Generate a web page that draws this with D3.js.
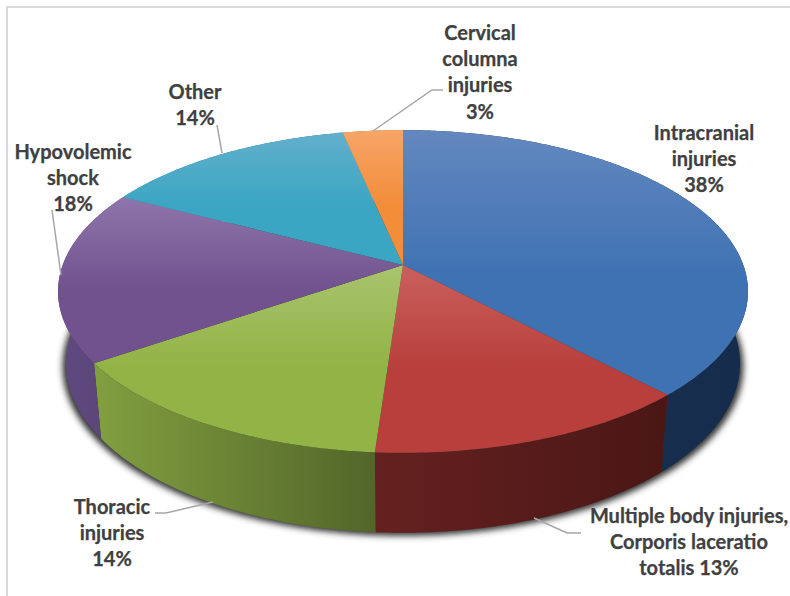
<!DOCTYPE html>
<html>
<head>
<meta charset="utf-8">
<script src="https://cdn.jsdelivr.net/npm/d3@7/dist/d3.min.js"></script>
<style>
html,body{margin:0;padding:0;background:#fff;}
svg{display:block;}
text{font-family:Lato,"Open Sans",sans-serif;font-weight:700;fill:#404040;stroke:#404040;stroke-width:0.25;}
</style>
</head>
<body>
<svg id="chart" width="790" height="596"></svg>
<script>
// Data
const categories = ["Intracranial injuries","Multiple body injuries, Corporis laceratio totalis","Thoracic injuries","Hypovolemic shock","Other","Cervical columna injuries"];
const values = [38,13.1,14.3,17.3,14,3.3];
const labelLines = [
  ["Intracranial","injuries","38%"],
  ["Multiple body injuries,","Corporis laceratio","totalis 13%"],
  ["Thoracic","injuries","14%"],
  ["Hypovolemic","shock","18%"],
  ["Other","14%"],
  ["Cervical","columna","injuries","3%"]
];
// Styles
const topLight = ["#6388bf","#c9605c","#a9c46e","#8f75aa","#62b0cc","#f7a568"];
const topBase  = ["#3f72b3","#b83f3c","#92b345","#71528f","#3aa6c3","#f28d3a"];
const wallLeft = ["#1a3152","#652120","#829f40","#5f4a80","#2a7a90","#b06a2c"];
const wallRight= ["#162c4c","#4a1715","#526629","#5a4478","#2a7a90","#b06a2c"];
// Layout
const labelPos = [[704,133],[689,516],[112,507],[73,152],[195,92],[480,33]];
const leaders = [null,
  [[534,518],[567,533],[581,533]],
  [[155,513],[166,513],[213,502]],
  [[52,210],[61,275]],
  [[217,125],[222,153]],
  [[373,131],[432,90],[443,90]]];
const apex = {x:403,y:265}, A=340.3, B=157, k=0.164;
const lowScaleX=0.977, lowScaleY=1.05, lowDy=70.6;

const svg = d3.select("#chart");
const defs = svg.append("defs");
const blur = defs.append("filter").attr("id","sh").attr("x","-10%").attr("y","-10%").attr("width","120%").attr("height","120%");
blur.append("feGaussianBlur").attr("stdDeviation",3);

// Frame
svg.append("path").attr("d","M7,596V7H790").attr("fill","none").attr("stroke","#d9d9d9").attr("stroke-width",2);

// Perspective projection of the pie disk
function proj(a){
  const u=Math.sin(a), v=-Math.cos(a), w=1-k*v;
  return [A*u/w, B*v/w];
}
const topPt = a => { const p=proj(a); return [apex.x+p[0], apex.y+p[1]]; };
const lowPt = a => { const p=proj(a); return [apex.x+p[0]*lowScaleX, apex.y+p[1]*lowScaleY+lowDy]; };
const line = d3.line();
const arcs = d3.pie().sort(null).value(d=>d)(values);
const sample = (a0,a1) => { const n=Math.max(2,Math.ceil((a1-a0)/0.01)); return d3.range(n+1).map(i=>a0+(a1-a0)*i/n); };

arcs.forEach((d,i)=>{
  const g1=defs.append("linearGradient").attr("id","t"+i)
    .attr("x1",0).attr("x2",0).attr("y1",0).attr("y2",1);
  g1.append("stop").attr("offset",0).attr("stop-color",topLight[i]);
  g1.append("stop").attr("offset",0.55).attr("stop-color",topBase[i]);
  g1.append("stop").attr("offset",1).attr("stop-color",topBase[i]);
  const pts=sample(d.startAngle,d.endAngle).map(topPt);
  const xe=d3.extent(pts,p=>p[0]);
  const g2=defs.append("linearGradient").attr("id","w"+i).attr("gradientUnits","userSpaceOnUse")
    .attr("x1",xe[0]).attr("x2",xe[1]).attr("y1",0).attr("y2",0);
  g2.append("stop").attr("offset",0).attr("stop-color",wallLeft[i]);
  g2.append("stop").attr("offset",1).attr("stop-color",wallRight[i]);
});

// Shadow
const full=sample(0,2*Math.PI);
svg.append("path").attr("d",line(full.map(a=>{const p=lowPt(a);return [apex.x+(p[0]-apex.x)*1.01,p[1]+3];}))+"Z")
  .attr("fill","#333").attr("filter","url(#sh)");

// Walls
svg.append("g").selectAll("path").data(arcs).join("path")
  .attr("d",d=>{
    const as=sample(d.startAngle,d.endAngle);
    return line(as.map(topPt).concat(as.slice().reverse().map(lowPt)))+"Z";
  })
  .attr("fill",(d,i)=>`url(#w${i})`);

// Top faces
svg.append("g").selectAll("path").data(arcs).join("path")
  .attr("d",d=>line([[apex.x,apex.y]].concat(sample(d.startAngle,d.endAngle).map(topPt)))+"Z")
  .attr("fill",(d,i)=>`url(#t${i})`);

// Leaders
svg.append("g").selectAll("path").data(leaders.filter(Boolean)).join("path")
  .attr("d",d=>line(d)).attr("fill","none").attr("stroke","#a6a6a6").attr("stroke-width",1.5);

// Labels
const lh=26.2;
const lg=svg.append("g").attr("text-anchor","middle").attr("font-size",20);
labelLines.forEach((ls,i)=>{
  const t=lg.append("text").attr("aria-label",categories[i]);
  ls.forEach((s,j)=>t.append("tspan").attr("x",labelPos[i][0]).attr("y",labelPos[i][1]+j*lh+7).text(s));
});
</script>
</body>
</html>
